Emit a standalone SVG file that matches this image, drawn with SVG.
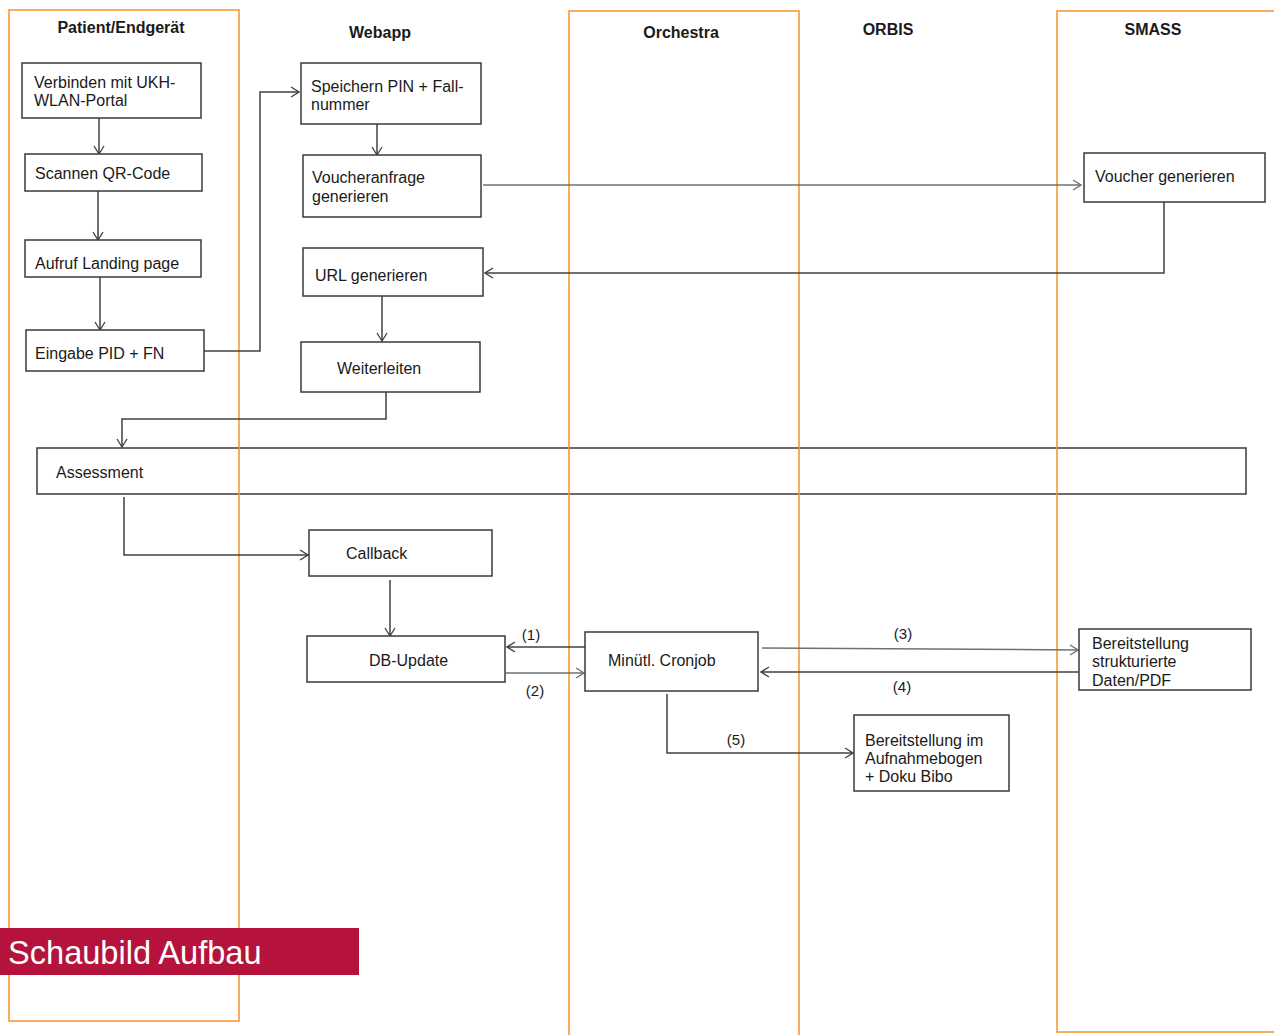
<svg xmlns="http://www.w3.org/2000/svg" width="1274" height="1035" viewBox="0 0 1274 1035">
<defs>
<marker id="ah" viewBox="0 0 10 12" refX="9" refY="6" markerWidth="10" markerHeight="12" markerUnits="userSpaceOnUse" orient="auto">
<path d="M1,1 L9,6 L1,11" fill="none" stroke="#404040" stroke-width="1.3"/>
</marker>
<marker id="ahg" viewBox="0 0 10 12" refX="9" refY="6" markerWidth="10" markerHeight="12" markerUnits="userSpaceOnUse" orient="auto">
<path d="M1,1 L9,6 L1,11" fill="none" stroke="#707070" stroke-width="1.3"/>
</marker>
</defs>
<style>
.lane{fill:none;stroke:#f7922e;stroke-width:1.5}
.box{fill:#fff;stroke:#3a3a3a;stroke-width:1.5}
.t{font-family:"Liberation Sans",Arial,sans-serif;font-size:16px;fill:#1a1a1a}
.h{font-family:"Liberation Sans",Arial,sans-serif;font-size:16px;font-weight:bold;fill:#1a1a1a}
.c{fill:none;stroke:#404040;stroke-width:1.5;marker-end:url(#ah)}
.cg{fill:none;stroke:#707070;stroke-width:1.5;marker-end:url(#ahg)}
.lbl{font-family:"Liberation Sans",Arial,sans-serif;font-size:15px;fill:#1a1a1a;text-anchor:middle}
</style>
<rect width="1274" height="1035" fill="#fff"/>
<g id="n-assessment"><rect x="37" y="448" width="1209" height="46" fill="none" stroke="#3a3a3a" stroke-width="1.5"/><text class="t" x="56" y="478">Assessment</text></g>
<g id="lanes">
<rect class="lane" x="9" y="10" width="230" height="1011"/>
<rect class="lane" x="569" y="11" width="230" height="1040"/>
<rect class="lane" x="1057" y="11" width="240" height="1021"/>
<text class="h" x="121" y="33" text-anchor="middle">Patient/Endgerät</text>
<text class="h" x="380" y="38" text-anchor="middle">Webapp</text>
<text class="h" x="681" y="38" text-anchor="middle">Orchestra</text>
<text class="h" x="888" y="35" text-anchor="middle">ORBIS</text>
<text class="h" x="1153" y="35" text-anchor="middle">SMASS</text>
</g>
<g id="connectors">
<path class="c" d="M99,118 V154"/>
<path class="c" d="M98,191 V240"/>
<path class="c" d="M100,277 V330"/>
<path class="c" d="M204,351 H260 V92 H299"/>
<path class="c" d="M377,124 V155"/>
<path class="cg" d="M483,185 H1081"/>
<path class="c" d="M1164,202 V273 H485"/>
<path class="c" d="M382,296 V341"/>
<path class="c" d="M386,392 V419 H122 V447"/>
<path class="c" d="M124,497 V555 H308"/>
<path class="c" d="M390,580 V636"/>
<path class="c" d="M585,647 H507"/>
<path class="cg" d="M506,673 H584"/>
<path class="cg" d="M762,648 L1078,650"/>
<path class="c" d="M1079,672 H761"/>
<path class="c" d="M667,694 V753 H853"/>
<text class="lbl" x="531" y="640">(1)</text>
<text class="lbl" x="535" y="696">(2)</text>
<text class="lbl" x="903" y="639">(3)</text>
<text class="lbl" x="902" y="692">(4)</text>
<text class="lbl" x="736" y="745">(5)</text>
</g>
<g id="n-verbinden"><rect class="box" x="22" y="63" width="179" height="55"/><text class="t" x="34" y="88">Verbinden mit UKH-</text><text class="t" x="34" y="106">WLAN-Portal</text></g>
<g id="n-scannen"><rect class="box" x="25" y="154" width="177" height="37"/><text class="t" x="35" y="179">Scannen QR-Code</text></g>
<g id="n-aufruf"><rect class="box" x="25" y="240" width="176" height="37"/><text class="t" x="35" y="269">Aufruf Landing page</text></g>
<g id="n-eingabe"><rect class="box" x="26" y="330" width="178" height="41"/><text class="t" x="35" y="359">Eingabe PID + FN</text></g>
<g id="n-speichern"><rect class="box" x="301" y="63" width="180" height="61"/><text class="t" x="311" y="92">Speichern PIN + Fall-</text><text class="t" x="311" y="110">nummer</text></g>
<g id="n-voucheranfrage"><rect class="box" x="303" y="155" width="178" height="62"/><text class="t" x="312" y="183">Voucheranfrage</text><text class="t" x="312" y="202">generieren</text></g>
<g id="n-url"><rect class="box" x="303" y="248" width="180" height="48"/><text class="t" x="315" y="281">URL generieren</text></g>
<g id="n-weiterleiten"><rect class="box" x="301" y="342" width="179" height="50"/><text class="t" x="337" y="374">Weiterleiten</text></g>
<g id="n-voucher"><rect class="box" x="1084" y="153" width="181" height="49"/><text class="t" x="1095" y="182">Voucher generieren</text></g>
<g id="n-callback"><rect class="box" x="309" y="530" width="183" height="46"/><text class="t" x="346" y="559">Callback</text></g>
<g id="n-dbupdate"><rect class="box" x="307" y="636" width="198" height="46"/><text class="t" x="369" y="666">DB-Update</text></g>
<g id="n-cronjob"><rect class="box" x="585" y="632" width="173" height="59"/><text class="t" x="608" y="666">Minütl. Cronjob</text></g>
<g id="n-smass-bereit"><rect class="box" x="1079" y="629" width="172" height="61"/><text class="t" x="1092" y="649">Bereitstellung</text><text class="t" x="1092" y="667">strukturierte</text><text class="t" x="1092" y="686">Daten/PDF</text></g>
<g id="n-orbis-bereit"><rect class="box" x="854" y="715" width="155" height="76"/><text class="t" x="865" y="746">Bereitstellung im</text><text class="t" x="865" y="764">Aufnahmebogen</text><text class="t" x="865" y="782">+ Doku Bibo</text></g>
<g id="banner"><rect x="0" y="928" width="359" height="47" fill="#b5133c"/><text x="8" y="964" font-family="'Liberation Sans',Arial,sans-serif" font-size="32.6" fill="#fff">Schaubild Aufbau</text></g>
</svg>
